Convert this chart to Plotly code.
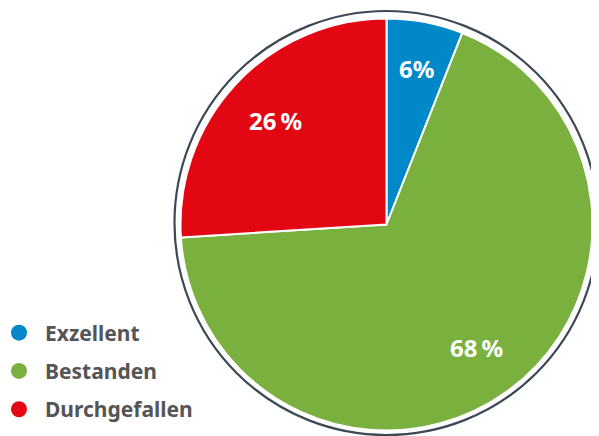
import math
import plotly.graph_objects as go

labels = ["Exzellent", "Bestanden", "Durchgefallen"]
values = [6, 68, 26]
texts = ["6%", "68\u2009%", "26\u2009%"]
colors = ["#0088c8", "#7ab03e", "#e30613"]

W, H = 599, 436
OFF = 8  # page body margin
cx, cy, r = 386.5 - OFF, 224.5 - OFF, 206  # pixel center (from top) and radius
rcx, rcy, ring = 386.5 - OFF, 223 - OFF, 212
label_frac = [0.77, 0.74, 0.74]

fig = go.Figure()
fig.add_trace(go.Pie(
    labels=labels, values=values,
    textinfo="none",
    marker=dict(colors=colors, line=dict(color="white", width=2)),
    sort=False, direction="clockwise", rotation=0,
    showlegend=False, hoverinfo="label+percent",
    domain=dict(x=[(cx - r) / W, (cx + r) / W], y=[(H - cy - r) / H, (H - cy + r) / H]),
))
for lab, col in zip(labels, colors):
    fig.add_trace(go.Scatter(
        x=[None], y=[None], mode="markers", name=lab, legendgroup=lab,
        marker=dict(color=col, size=16, symbol="circle"),
    ))

# slice labels at mid-angle of each slice
total = sum(values)
start = 0.0
for v, t, f in zip(values, texts, label_frac):
    mid = (start + v / 2) / total * 2 * math.pi
    start += v
    px = cx + f * r * math.sin(mid)
    py = cy - f * r * math.cos(mid)
    fig.add_annotation(x=px / W, y=(H - py) / H, xref="paper", yref="paper",
                       xanchor="center", yanchor="middle",
                       text=t, showarrow=False,
                       font=dict(family="Noto Sans", size=24, color="white", weight="bold"))

fig.add_shape(type="circle", xref="paper", yref="paper",
              x0=(rcx - ring) / W, x1=(rcx + ring) / W,
              y0=(H - rcy - ring) / H, y1=(H - rcy + ring) / H,
              line=dict(color="#3b4955", width=2.2), layer="below")

fig.update_layout(
    width=W, height=H, margin=dict(l=0, r=0, t=0, b=0, autoexpand=False),
    paper_bgcolor="white", plot_bgcolor="white",
    xaxis=dict(visible=False), yaxis=dict(visible=False),
    legend=dict(x=-15 / W, y=(H - 304.5) / H, xanchor="left", yanchor="top",
                font=dict(family="Noto Sans", size=21, color="#555555", weight="bold"),
                bgcolor="rgba(0,0,0,0)", tracegroupgap=8, itemsizing="trace",
                itemwidth=42),
)
fig.write_html("out.html")
